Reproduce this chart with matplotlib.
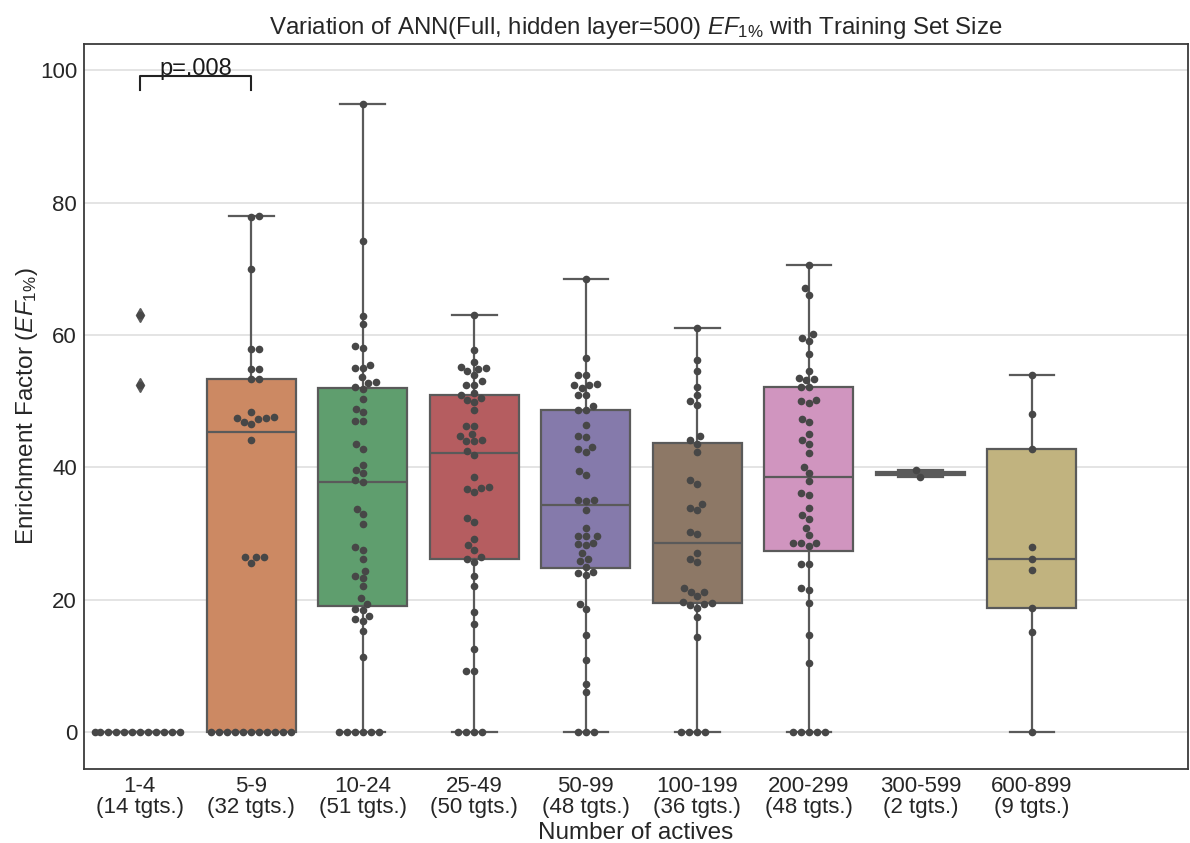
import colorsys
import matplotlib
matplotlib.use('Agg')
import matplotlib.pyplot as plt
import matplotlib.colors as mcolors
import pandas as pd
import seaborn as sns

plt.rcParams['font.family'] = ['Liberation Sans', 'DejaVu Sans']
plt.rcParams['mathtext.fontset'] = 'custom'
plt.rcParams['mathtext.rm'] = 'Liberation Sans'
plt.rcParams['mathtext.it'] = 'Liberation Sans:italic'
plt.rcParams['mathtext.bf'] = 'Liberation Sans:bold'

# Datos
grupos = ['1-4', '5-9', '10-24', '25-49', '50-99', '100-199', '200-299', '300-599', '600-899']
n_tgts = [14, 32, 51, 50, 48, 36, 48, 2, 9]

ef_1_4 = [0] * 12 + [63.0, 52.4]
ef_5_9 = [0] * 11 + [25.6, 26.4, 26.5, 26.5,
                     44.2, 46.6, 46.9, 47.3, 47.4, 47.5, 47.6, 48.4,
                     53.3, 53.3, 54.9, 54.9, 57.9, 57.9, 70.0, 77.8, 78.0]
ef_10_24 = [0] * 6 + [11.4, 15.2, 16.75, 17.1, 17.5, 18.4, 18.6, 19.4, 20.25, 22.0,
                      23.3, 23.6, 24.4, 26.2, 27.5, 27.9, 31.4, 33.0, 33.75, 37.75,
                      38.1, 39.1, 39.6, 40.3, 42.8, 43.5, 47.0, 47.0, 48.3, 48.8,
                      50.3, 51.9, 52.2, 52.8, 52.9, 53.6, 55.0, 55.0, 55.5, 58.0,
                      58.3, 61.7, 62.9, 74.2, 95.0]
ef_25_49 = [0] * 4 + [9.2, 9.2, 12.6, 16.3, 18.1, 22.0, 23.6, 25.7, 26.1, 26.4,
                      27.5, 28.2, 29.1, 31.8, 32.3, 36.3, 36.7, 36.9, 37.0, 38.5,
                      41.9, 42.4, 44.0, 44.0, 44.1, 44.7, 45.1, 46.2, 46.3, 48.6,
                      49.9, 50.2, 50.5, 51.0, 51.3, 52.5, 52.5, 53.0, 53.9, 54.5,
                      54.9, 55.0, 55.2, 56.0, 57.7, 63.0]
ef_50_99 = [0] * 3 + [6.1, 7.3, 10.9, 14.6, 18.6, 19.4, 23.8, 24.0, 24.2, 25.0,
                      25.8, 26.2, 27.0, 28.2, 28.4, 28.6, 29.6, 29.6, 29.6, 30.8,
                      33.6, 34.9, 35.1, 35.1, 38.9, 39.4, 42.3, 42.7, 43.1, 44.6,
                      44.8, 46.4, 48.6, 48.6, 49.2, 51.0, 51.0, 52.0, 52.4, 52.4,
                      52.6, 53.9, 54.0, 56.5, 68.5]
ef_100_199 = [0] * 4 + [14.4, 17.4, 18.8, 19.2, 19.4, 19.5, 19.7, 20.5, 21.2, 21.2,
                        21.7, 25.7, 26.2, 27.1, 29.9, 30.2, 33.5, 33.8, 34.4, 37.5,
                        38.1, 42.3, 43.6, 44.1, 44.7, 49.4, 50.0, 51.0, 52.2, 54.5,
                        56.2, 61.0]
ef_200_299 = [0] * 5 + [10.4, 14.6, 19.5, 21.4, 21.8, 25.4, 25.4, 28.1, 28.5, 28.5,
                        28.5, 29.7, 30.8, 32.2, 32.8, 33.9, 35.8, 36.1, 37.9, 39.2,
                        40.1, 42.1, 43.6, 44.1, 45.1, 46.8, 47.3, 49.7, 50.0, 50.2,
                        52.1, 52.2, 53.2, 53.3, 53.5, 54.6, 57.1, 59.1, 59.6, 60.1,
                        66.1, 67.1, 70.6]
ef_300_599 = [38.6, 39.6]
ef_600_899 = [0, 15.1, 18.7, 24.5, 26.1, 27.9, 42.7, 48.1, 54.0]

valores = [ef_1_4, ef_5_9, ef_10_24, ef_25_49, ef_50_99,
           ef_100_199, ef_200_299, ef_300_599, ef_600_899]

paleta = ['#4C72B0', '#DD8452', '#55A868', '#C44E52', '#8172B3',
          '#937860', '#DA8BC3', '#8C8C8C', '#CCB974']


def desaturar(color, prop=0.75):
    r, g, b = mcolors.to_rgb(color)
    h, l, s = colorsys.rgb_to_hls(r, g, b)
    return colorsys.hls_to_rgb(h, l, s * prop)


colores = [desaturar(c) for c in paleta]
gris = '#5a5a5a'

fig = plt.figure(figsize=(11.9, 8.43), dpi=100)
ax = fig.add_axes([0.0706, 0.0878, 0.9277, 0.860])

lineas = dict(color=gris, linewidth=1.6)
bp = ax.boxplot(valores, positions=range(len(grupos)), widths=0.8, whis=1.5,
                patch_artist=True, manage_ticks=False, zorder=2,
                boxprops=dict(edgecolor=gris, linewidth=1.6),
                medianprops=lineas, whiskerprops=lineas, capprops=lineas,
                flierprops=dict(marker='d', markerfacecolor=gris,
                                markeredgecolor=gris, markersize=7))
for caja, c in zip(bp['boxes'], colores):
    caja.set_facecolor(c)

# Puntos individuales (swarm)
df = pd.DataFrame({
    'grupo': [g for g, v in zip(grupos, valores) for _ in v],
    'ef': [x for v in valores for x in v],
})
sns.swarmplot(data=df, x='grupo', y='ef', order=grupos, color='#474747',
              size=5.5, ax=ax, zorder=3)

etiquetas = [f'{g}\n({n} tgts.)' for g, n in zip(grupos, n_tgts)]
ax.set_xlim(-0.5, 9.4)
ax.set_ylim(-5.6, 104.0)
ax.set_xticks(range(len(grupos)))
ax.set_xticklabels(etiquetas, linespacing=1.0)
ax.set_yticks([0, 20, 40, 60, 80, 100])
ax.tick_params(length=0, labelsize=16, labelcolor='.15', pad=5)
ax.grid(False)
ax.grid(axis='y', color='#dcdcdc', linewidth=1.1)
ax.set_axisbelow(True)
for s in ax.spines.values():
    s.set_visible(True)
    s.set_color('#3a3a3a')
    s.set_linewidth(1.3)

ax.set_xlabel('Number of actives', fontsize=17.5, color='.15', labelpad=3)
ax.set_ylabel(r'Enrichment Factor ($EF_{1\%}$)', fontsize=17.5, color='.15', labelpad=0)
ax.set_title(r'Variation of ANN(Full, hidden layer=500) $EF_{1\%}$ with Training Set Size',
             fontsize=17.3, color='.15', pad=7)

# Anotacion del p-valor
ax.plot([0, 0, 1, 1], [97.0, 99.1, 99.1, 97.0], color='#222222', linewidth=1.5, zorder=4)
ax.text(0.5, 99.3, 'p=.008', ha='center', va='baseline', fontsize=17, color='.1')

fig.savefig('out.png', dpi=100)
